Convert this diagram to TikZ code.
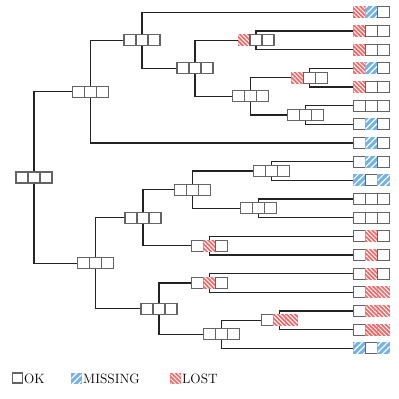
\documentclass[tikz,border=0pt]{standalone}
\usepackage{tikz}
\usetikzlibrary{patterns,patterns.meta}
\definecolor{lostred}{RGB}{246,104,104}
\definecolor{missblue}{RGB}{115,178,228}
\definecolor{okgray}{RGB}{100,100,100}
\definecolor{linkc}{RGB}{35,35,35}
\tikzset{
  slot/.style={minimum width=36pt, minimum height=11pt, inner sep=0pt, outer sep=0pt},
  link/.style={draw=linkc, line width=1.1pt},
  okc/.style={draw=okgray, fill=white, line width=1.1pt},
  lostc/.style={fill=lostred, postaction={pattern={Lines[angle=-45,distance=3pt,line width=1pt]}, pattern color=white}, draw=lostred, line width=0.8pt},
  missc/.style={fill=missblue, postaction={pattern={Lines[angle=45,distance=4.5pt,line width=1.2pt]}, pattern color=white}, draw=missblue, line width=0.8pt},
  legtext/.style={anchor=base west, inner sep=0pt, font=\fontsize{13.5}{15}\selectfont},
  legicon/.style={minimum width=10pt, minimum height=10pt, inner sep=0pt},
}
\newcommand\mkO[1]{\path[okc] (#1,-5.5) rectangle ++(12,11);}
\newcommand\mkL[1]{\path[lostc] (#1,-5.5) rectangle ++(12,11);}
\newcommand\mkM[1]{\path[missc] (#1,-5.5) rectangle ++(12,11);}
\newcommand\trio[4]{%
  \begin{scope}[shift={(#1.center)}]
    \csname mk#2\endcsname{-18}
    \csname mk#3\endcsname{-6}
    \csname mk#4\endcsname{6}
  \end{scope}}
\begin{document}
\begin{tikzpicture}[x=1pt,y=-1pt]
\useasboundingbox (0,0) rectangle (399,399);
% internal nodes
\node[slot] (root) at (34,177.5) {};
\node[slot] (A) at (90.7,91.7) {};
\node[slot] (C) at (142,40.3) {};
\node[slot] (D) at (195,68.3) {};
\node[slot] (E) at (256,40.3) {};
\node[slot] (F) at (250.7,96.3) {};
\node[slot] (G) at (309.7,77.7) {};
\node[slot] (H) at (305.7,115) {};
\node[slot] (B) at (95.3,263.2) {};
\node[slot] (I) at (143,217.7) {};
\node[slot] (K) at (192.3,189.7) {};
\node[slot] (M) at (271.3,171) {};
\node[slot] (N) at (258.7,208.3) {};
\node[slot] (L) at (209.7,245.7) {};
\node[slot] (J) at (159,308.7) {};
\node[slot] (P) at (209.7,283) {};
\node[slot] (Q) at (221.3,334.3) {};
\node[slot] (R) at (279.7,320.3) {};
% leaves
\foreach \i in {1,...,19} \node[slot] (l\i) at (371.7,{12.3+18.67*(\i-1)}) {};
% connectors
\foreach \p/\c in {root/A,root/B,A/C,A/l8,C/l1,C/D,D/E,D/F,E/l2,E/l3,F/G,F/H,G/l4,G/l5,H/l6,H/l7,
  B/I,B/J,I/K,I/L,K/M,K/N,M/l9,M/l10,N/l11,N/l12,L/l13,L/l14,J/P,J/Q,P/l15,P/l16,Q/R,Q/l19,R/l17,R/l18}
  \draw[link] (\p.center) |- (\c.west);
% cells
\trio{root}OOO \trio{A}OOO \trio{C}OOO \trio{D}OOO \trio{E}LOO \trio{F}OOO
\trio{G}LOO \trio{H}OOO \trio{B}OOO \trio{I}OOO \trio{K}OOO \trio{M}OOO
\trio{N}OOO \trio{L}OLO \trio{J}OOO \trio{P}OLO \trio{Q}OOO \trio{R}OLL
\trio{l1}LMO \trio{l2}LOO \trio{l3}LOO \trio{l4}LMO \trio{l5}LOO \trio{l6}OOO
\trio{l7}OMO \trio{l8}OMO \trio{l9}OMO \trio{l10}MOM \trio{l11}OOO \trio{l12}OOO
\trio{l13}OLO \trio{l14}OLO \trio{l15}OLO \trio{l16}OLL \trio{l17}OLL \trio{l18}OLL
\trio{l19}MOM
% legend
\node[legicon, okc] (legok) at (17.7,378) {};
\node[legtext] (legoktext) at (24,383.3) {OK};
\node[legicon, missc] (legmiss) at (76.3,378) {};
\node[legtext] (legmisstext) at (83,383.3) {MISSING};
\node[legicon, lostc] (leglost) at (175.5,378) {};
\node[legtext] (leglosttext) at (182,383.3) {LOST};
\end{tikzpicture}
\end{document}
